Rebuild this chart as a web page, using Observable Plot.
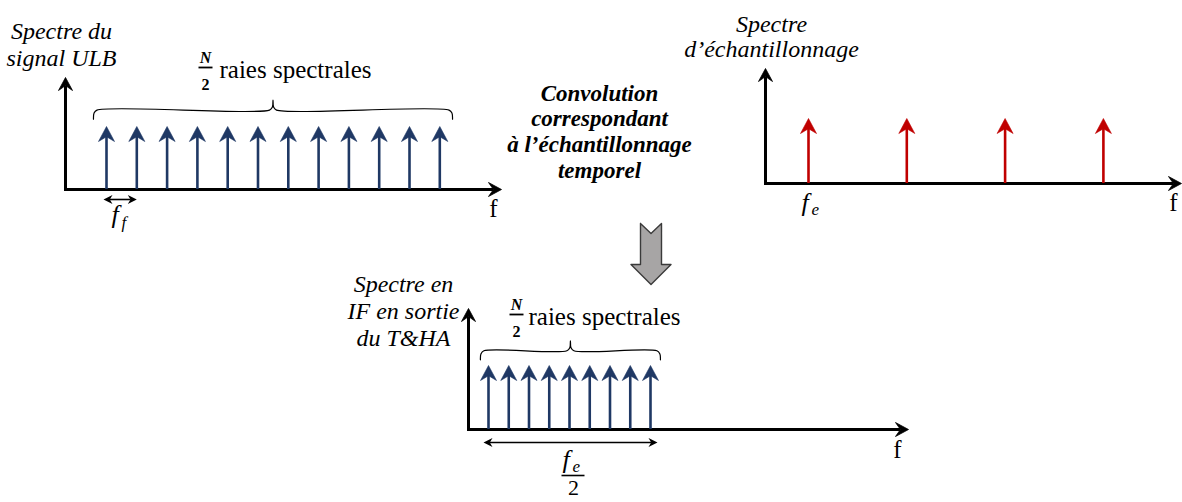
<!DOCTYPE html>
<html>
<head>
<meta charset="utf-8">
<script src="https://cdn.jsdelivr.net/npm/d3@7"></script>
<script src="https://cdn.jsdelivr.net/npm/@observablehq/plot@0.6"></script>
<style>
  html, body { margin: 0; padding: 0; background: #fff; }
  #chart svg { display: block; }
</style>
</head>
<body>
<div id="chart"></div>
<script>
// ---------------- data ----------------
// Spectral rays (frequency as multiples of the panel's base frequency, amplitude normalised)
const ulbFreqs      = [1, 2, 3, 4, 5, 6, 7, 8, 9, 10, 11, 12];   // multiples of f_f
const ulbAmps       = [1, 1, 1, 1, 1, 1, 1, 1, 1, 1, 1, 1];
const samplingFreqs = [1, 2, 3, 4];                               // multiples of f_e
const samplingAmps  = [1, 1, 1, 1];
const ifFreqs       = [1, 2, 3, 4, 5, 6, 7, 8, 9];               // IF rays up to f_e/2
const ifAmps        = [1, 1, 1, 1, 1, 1, 1, 1, 1];

const titleULB      = ["Spectre du", "signal ULB"];
const titleSampling = ["Spectre", "d’échantillonnage"];
const titleIF       = ["Spectre en", "IF en sortie", "du T&HA"];
const centerLines   = ["Convolution", "correspondant", "à l’échantillonnage", "temporel"];
const braceText     = "raies spectrales";
const fracNum       = "N";
const fracDen       = "2";
const axisName      = "f";

// ---------------- layout (pixel frame of each panel) ----------------
const W = 1182, H = 502;
const P1 = {ox: 75.7, oy: 189, fu: 30.3, au: 63, x0: 65, x1: 501, top: 77};
const P2 = {ox: 709.7, oy: 183, fu: 98.3, au: 65, x0: 765, x1: 1181, top: 68};
const P3 = {ox: 467.75, oy: 429, fu: 20.25, au: 64, x0: 468, x1: 908, top: 308};
const px = (P, f) => P.ox + f * P.fu;
const py = (P, a) => P.oy - a * P.au;

const BLUE = "#1f3864", RED = "#c00000", BLACK = "#000";
const SERIF = "Liberation Serif, Times New Roman, serif";

// arrow-head symbols (tip at the dot position)
function head(dir, w, l, notch = 0.68) {
  return {
    draw(ctx) {
      const h = w / 2;
      let pts;
      if (dir === "up") pts = [[0, 0], [h, l], [0, l * notch], [-h, l]];
      else if (dir === "right") pts = [[0, 0], [-l, h], [-l * notch, 0], [-l, -h]];
      else pts = [[0, 0], [l, h], [l * notch, 0], [l, -h]];
      ctx.moveTo(pts[0][0], pts[0][1]);
      for (const p of pts.slice(1)) ctx.lineTo(p[0], p[1]);
      ctx.closePath();
    }
  };
}
const rayHead = head("up", 16, 15);
const axisUp = head("up", 14, 13, 0.62);
const axisRight = head("right", 14, 13, 0.62);
const smallRight = head("right", 9, 9, 0.7);
const smallLeft = head("left", 9, 9, 0.7);

const rows = (fs, as) => fs.map((f, i) => ({f, a: as[i]}));
const ulb = rows(ulbFreqs, ulbAmps);
const samp = rows(samplingFreqs, samplingAmps);
const ifr = rows(ifFreqs, ifAmps);

function rayMarks(data, P, color) {
  return [
    Plot.ruleX(data, {x: d => px(P, d.f), y1: () => P.oy, y2: d => py(P, d.a) + 10, stroke: color, strokeWidth: 2.6}),
    Plot.dot(data, {x: d => px(P, d.f), y: d => py(P, d.a), symbol: rayHead, r: 1, fill: color, stroke: color, strokeWidth: 0.6})
  ];
}

function axisMarks(P) {
  const seg = [{x1: P.x0, y1: P.oy, x2: P.x1 - 8, y2: P.oy}, {x1: P.x0, y1: P.oy + 1.5, x2: P.x0, y2: P.top + 8}];
  return [
    Plot.link(seg, {x1: "x1", y1: "y1", x2: "x2", y2: "y2", stroke: BLACK, strokeWidth: 3}),
    Plot.dot([{x: P.x1, y: P.oy}], {x: "x", y: "y", symbol: axisRight, r: 1, fill: BLACK, stroke: BLACK, strokeWidth: 0.8}),
    Plot.dot([{x: P.x0, y: P.top}], {x: "x", y: "y", symbol: axisUp, r: 1, fill: BLACK, stroke: BLACK, strokeWidth: 0.8})
  ];
}

// curly brace over a set of rays
function bracePoints(P, fa, fb, amp, id) {
  const x0 = px(P, fa), x1 = px(P, fb), y = py(P, amp), m = (x0 + x1) / 2;
  return [
    [x0, y + 9], [x0 + 0.6, y + 3], [x0 + 3.5, y], [m - 3.5, y], [m - 0.6, y - 3], [m, y - 10],
    [m + 0.6, y - 3], [m + 3.5, y], [x1 - 3.5, y], [x1 - 0.6, y + 3], [x1, y + 9]
  ].map(([x, yy]) => ({x, y: yy, id}));
}
const braces = [
  ...bracePoints(P1, ulbFreqs[0] - 0.43, ulbFreqs[ulbFreqs.length - 1] + 0.42, 1.26, "b1"),
  ...bracePoints(P3, ifFreqs[0] - 0.4, ifFreqs[ifFreqs.length - 1] + 0.49, 1.23, "b3")
];

// grey "down" block arrow shape (relative to its top centre)
const blockArrow = [[-10.5, 0], [0, 10], [10.5, 0], [10.5, 41], [20, 41], [0, 61], [-20, 41], [-10.5, 41], [-10.5, 0]];
const blockOrigin = {x: 650.5, y: 223};

// ---------------- texts ----------------
const T = (data, o) => Plot.text(data, {x: "x", y: "y", text: "t", fontFamily: SERIF, lineAnchor: "bottom", fill: BLACK, ...o});

const titles = [
  ...titleULB.map((t, i) => ({t, x: 61, y: 38 + i * 27})),
  ...titleSampling.map((t, i) => ({t, x: 771, y: 31 + i * 25})),
  ...titleIF.map((t, i) => ({t, x: 403, y: 291 + i * 27}))
];
const centers = centerLines.map((t, i) => ({t, x: 599, y: 100 + i * 25.7}));

const braceLabels = [{t: braceText, x: 219, y: 77}, {t: braceText, x: 528, y: 324}];
const fracN = [{t: fracNum, x: 205, y: 62}, {t: fracNum, x: 516, y: 309}];
const fracD = [{t: fracDen, x: 205, y: 89}, {t: fracDen, x: 516, y: 336}];
const fracBars = [{x1: 198, x2: 212, y: 67}, {x1: 509, x2: 523, y: 314}];

const fMain = [{t: "f", x: 111, y: 222}, {t: "f", x: 801, y: 210}, {t: "f", x: 562, y: 467}];
const fSub = [{t: "f", x: 121, y: 227}, {t: "e", x: 811, y: 214}, {t: "e", x: 572, y: 471}];
const feBar = [{x1: 561, x2: 584, y: 475}];
const feDen = [{t: "2", x: 573, y: 494}];
const axisLabels = [{t: axisName, x: 493, y: 216}, {t: axisName, x: 1173, y: 210}, {t: axisName, x: 897, y: 457}];

// double-headed spacing arrows
const spans = [
  {xa: px(P1, ulbFreqs[0]) - 3, xb: px(P1, ulbFreqs[1]), y: 199},
  {xa: P3.x0 + 15, xb: px(P3, ifFreqs[ifFreqs.length - 1]) + 7, y: 442}
];

const chart = Plot.plot({
  width: W, height: H, margin: 0,
  x: {domain: [0, W], range: [0, W], axis: null},
  y: {domain: [0, H], range: [0, H], axis: null},
  style: {background: "#fff", overflow: "visible"},
  marks: [
    ...axisMarks(P1), ...axisMarks(P2), ...axisMarks(P3),
    ...rayMarks(ulb, P1, BLUE), ...rayMarks(samp, P2, RED), ...rayMarks(ifr, P3, BLUE),
    Plot.line(braces, {x: "x", y: "y", z: "id", curve: "catmull-rom", stroke: BLACK, strokeWidth: 1.2}),
    Plot.link(spans, {x1: d => d.xa + 6, x2: d => d.xb - 6, y1: "y", y2: "y", stroke: BLACK, strokeWidth: 1.6}),
    Plot.dot(spans, {x: "xb", y: "y", symbol: smallRight, r: 1, fill: BLACK}),
    Plot.dot(spans, {x: "xa", y: "y", symbol: smallLeft, r: 1, fill: BLACK}),
    Plot.line(blockArrow, {x: d => blockOrigin.x + d[0], y: d => blockOrigin.y + d[1], fill: "#a7a5a5", stroke: "#3a3a3a", strokeWidth: 1.4}),
    T(titles, {fontStyle: "italic", fontSize: 24, textAnchor: "middle"}),
    T(centers, {fontStyle: "italic", fontWeight: "bold", fontSize: 23, textAnchor: "middle"}),
    T(braceLabels, {fontSize: 25, textAnchor: "start"}),
    T(fracN, {fontStyle: "italic", fontWeight: "bold", fontSize: 16, textAnchor: "middle"}),
    T(fracD, {fontWeight: "bold", fontSize: 16, textAnchor: "middle"}),
    Plot.link(fracBars, {x1: "x1", x2: "x2", y1: "y", y2: "y", stroke: BLACK, strokeWidth: 1.8}),
    T(fMain, {fontStyle: "italic", fontSize: 26, textAnchor: "start"}),
    T(fSub, {fontStyle: "italic", fontSize: 17, textAnchor: "start"}),
    Plot.link(feBar, {x1: "x1", x2: "x2", y1: "y", y2: "y", stroke: BLACK, strokeWidth: 1.6}),
    T(feDen, {fontSize: 22, textAnchor: "middle"}),
    T(axisLabels, {fontSize: 25, textAnchor: "middle"})
  ]
});
document.getElementById("chart").appendChild(chart);
</script>
</body>
</html>
